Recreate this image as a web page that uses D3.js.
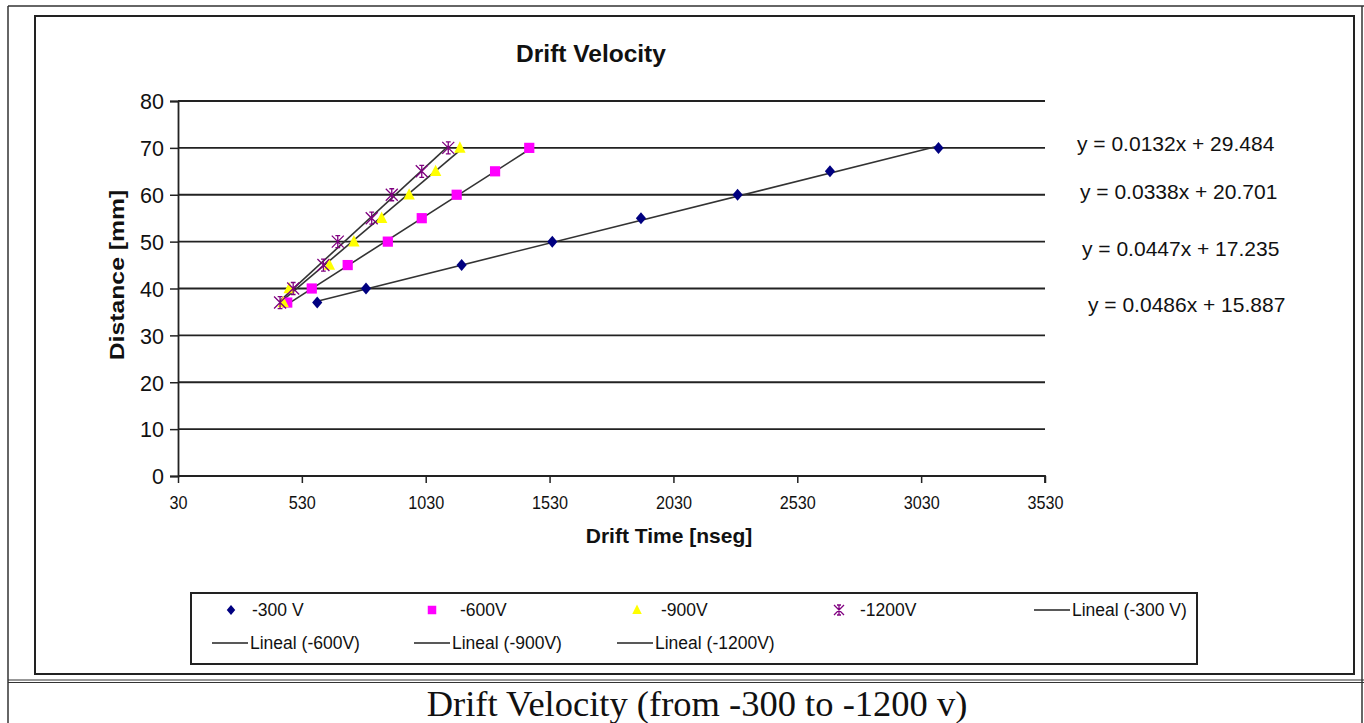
<!DOCTYPE html>
<html lang="en">
<head>
    <meta charset="UTF-8">
    <title>Drift Velocity</title>
    <script src="https://d3js.org/d3.v7.min.js"></script>
    <style>
        body { margin: 0; background: #fff; }
        text { font-family: "Liberation Sans", Arial, sans-serif; fill: #111; }
    </style>
</head>
<body>
    <svg width="1364" height="723" id="chart"></svg>
    <script>
        // Data
        const distance = [37, 40, 45, 50, 55, 60, 65, 70];
        const time300 = [592, 789, 1175, 1541, 1899, 2289, 2662, 3100];
        const time600 = [471, 570, 715, 877, 1014, 1155, 1310, 1448];
        const time900 = [455, 479, 641, 740, 852, 963, 1070, 1168];
        const time1200 = [442, 495, 617, 675, 812, 893, 1014, 1121];
        const seriesNames = ["-300 V", "-600V", "-900V", "-1200V"];
        const trendNames = ["Lineal (-300 V)", "Lineal (-600V)", "Lineal (-900V)", "Lineal (-1200V)"];
        const slopes = [0.0132, 0.0338, 0.0447, 0.0486];
        const intercepts = [29.484, 20.701, 17.235, 15.887];
        const xTicks = [30, 530, 1030, 1530, 2030, 2530, 3030, 3530];
        const yTicks = [0, 10, 20, 30, 40, 50, 60, 70, 80];

        const svg = d3.select("#chart");

        const x = d3.scaleLinear().domain([30, 3530]).range([178, 1045]);
        const y = d3.scaleLinear().domain([0, 80]).range([476, 101]);

        const seriesColors = ["#000080", "#ff00ff", "#ffff00", "#800080"];
        const times = [time300, time600, time900, time1200];

        // outer frame + chart box
        const frame = svg.append("g").attr("stroke", "#333").attr("stroke-width", 1.5);
        frame.append("line").attr("x1", 8).attr("x2", 8).attr("y1", 6).attr("y2", 723);
        frame.append("line").attr("x1", 8).attr("x2", 1364).attr("y1", 6).attr("y2", 6);
        frame.append("line").attr("x1", 1362).attr("x2", 1362).attr("y1", 6).attr("y2", 723);
        frame.append("line").attr("x1", 8).attr("x2", 1364).attr("y1", 680).attr("y2", 680).attr("stroke-width", 1.2);
        frame.append("line").attr("x1", 8).attr("x2", 1364).attr("y1", 682.5).attr("y2", 682.5).attr("stroke-width", 1.2);
        svg.append("rect").attr("x", 35).attr("y", 16).attr("width", 1319).attr("height", 658)
            .attr("fill", "none").attr("stroke", "#222").attr("stroke-width", 2);

        // title
        svg.append("text").attr("x", 591).attr("y", 62)
            .attr("text-anchor", "middle").attr("font-weight", "bold").attr("font-size", 24.5)
            .text("Drift Velocity");

        // gridlines
        svg.append("g").selectAll("line").data(yTicks).join("line")
            .attr("x1", x(30)).attr("x2", x(3530))
            .attr("y1", d => y(d)).attr("y2", d => y(d))
            .attr("stroke", "#222").attr("stroke-width", 1.8);

        // axes
        const yAxis = svg.append("g").attr("transform", `translate(${x(30)},0)`)
            .call(d3.axisLeft(y).tickValues(yTicks).tickSize(8).tickPadding(6));
        const xAxis = svg.append("g").attr("transform", `translate(0,${y(0)})`)
            .call(d3.axisBottom(x).tickValues(xTicks).tickFormat(d3.format("d")).tickSize(7).tickPadding(13));
        [yAxis, xAxis].forEach(a => {
            a.select(".domain").attr("stroke", "#222").attr("stroke-width", 1.8);
            a.selectAll(".tick line").attr("stroke", "#222").attr("stroke-width", 1.5);
            a.selectAll(".tick text").attr("fill", "#111")
                .style("font-family", '"Liberation Sans", Arial, sans-serif');
        });
        yAxis.selectAll(".tick text").attr("font-size", 21.5).attr("dy", "0.36em");
        xAxis.selectAll(".tick text").attr("font-size", 18).attr("transform", "scale(0.9,1)");
        // the last x tick is drawn as a short corner
        xAxis.select(".domain").attr("d", `M${x(30)},0H${x(3530)}V7`);

        // axis titles
        svg.append("text").attr("x", 669).attr("y", 543)
            .attr("text-anchor", "middle").attr("font-weight", "bold").attr("font-size", 21)
            .text("Drift Time [nseg]");
        svg.append("text")
            .attr("transform", "translate(124,275) rotate(-90) scale(1.18,1)")
            .attr("text-anchor", "middle").attr("font-weight", "bold").attr("font-size", 21)
            .text("Distance [mm]");

        // trendlines from the fitted equations, spanning each series' time range
        svg.append("g").selectAll("line").data(times).join("line")
            .attr("x1", d => x(d3.min(d)))
            .attr("x2", d => x(d3.max(d)))
            .attr("y1", (d, i) => y(slopes[i] * d3.min(d) + intercepts[i]))
            .attr("y2", (d, i) => y(slopes[i] * d3.max(d) + intercepts[i]))
            .attr("stroke", "#333").attr("stroke-width", 1.6);

        // marker drawing
        function drawMarker(g, k, cx, cy, s) {
            if (k === 0) {
                g.append("path").attr("d", `M${cx},${cy - s}L${cx + s * 0.85},${cy}L${cx},${cy + s}L${cx - s * 0.85},${cy}Z`)
                    .attr("fill", seriesColors[0]);
            } else if (k === 1) {
                g.append("rect").attr("x", cx - s * 0.85).attr("y", cy - s * 0.85)
                    .attr("width", s * 1.7).attr("height", s * 1.7).attr("fill", seriesColors[1]);
            } else if (k === 2) {
                g.append("path").attr("d", `M${cx},${cy - s * 1.1}L${cx + s * 0.95},${cy + s * 0.8}L${cx - s * 0.95},${cy + s * 0.8}Z`)
                    .attr("fill", seriesColors[2]);
            } else {
                g.append("path")
                    .attr("d", `M${cx - s},${cy - s}L${cx + s},${cy + s}M${cx + s},${cy - s}L${cx - s},${cy + s}` +
                        `M${cx},${cy - s}L${cx},${cy + s}M${cx - s * 0.4},${cy - s}H${cx + s * 0.4}M${cx - s * 0.4},${cy + s}H${cx + s * 0.4}`)
                    .attr("stroke", seriesColors[3]).attr("stroke-width", 1.3).attr("fill", "none");
            }
        }

        const markers = svg.append("g");
        times.forEach((ts, k) => {
            ts.forEach((t, i) => drawMarker(markers, k, x(t), y(distance[i]), 6));
        });

        // equation labels
        const eqPos = [[1077, 151], [1080, 199], [1082, 256], [1088, 312]];
        svg.append("g").selectAll("text").data(slopes).join("text")
            .attr("x", (d, i) => eqPos[i][0]).attr("y", (d, i) => eqPos[i][1])
            .attr("font-size", 21)
            .text((d, i) => `y = ${d.toFixed(4)}x + ${intercepts[i].toFixed(3)}`);

        // legend
        svg.append("rect").attr("x", 191).attr("y", 593).attr("width", 1006).attr("height", 71)
            .attr("fill", "#fff").attr("stroke", "#222").attr("stroke-width", 2);
        const legend = svg.append("g");
        const row1 = [[231, 252], [432, 460], [637, 661], [839, 860]];
        seriesNames.forEach((name, k) => {
            drawMarker(legend, k, row1[k][0], 610, 5);
            legend.append("text").attr("x", row1[k][1]).attr("y", 616)
                .attr("font-size", 17.5).text(name);
        });
        const linePos = [[1034, 610], [212, 643], [414, 643], [617, 643]];
        trendNames.forEach((name, k) => {
            const [lx, ly] = linePos[k];
            legend.append("line").attr("x1", lx).attr("x2", lx + 36).attr("y1", ly).attr("y2", ly)
                .attr("stroke", "#222").attr("stroke-width", 1.6);
            legend.append("text").attr("x", lx + 38).attr("y", ly + 6)
                .attr("font-size", 17.5).text(name);
        });

        // caption
        svg.append("text").attr("x", 697).attr("y", 716)
            .attr("text-anchor", "middle").attr("font-size", 36.5)
            .style("font-family", '"Liberation Serif", "Times New Roman", serif')
            .text("Drift Velocity (from -300 to -1200 v)");
    </script>
</body>
</html>
